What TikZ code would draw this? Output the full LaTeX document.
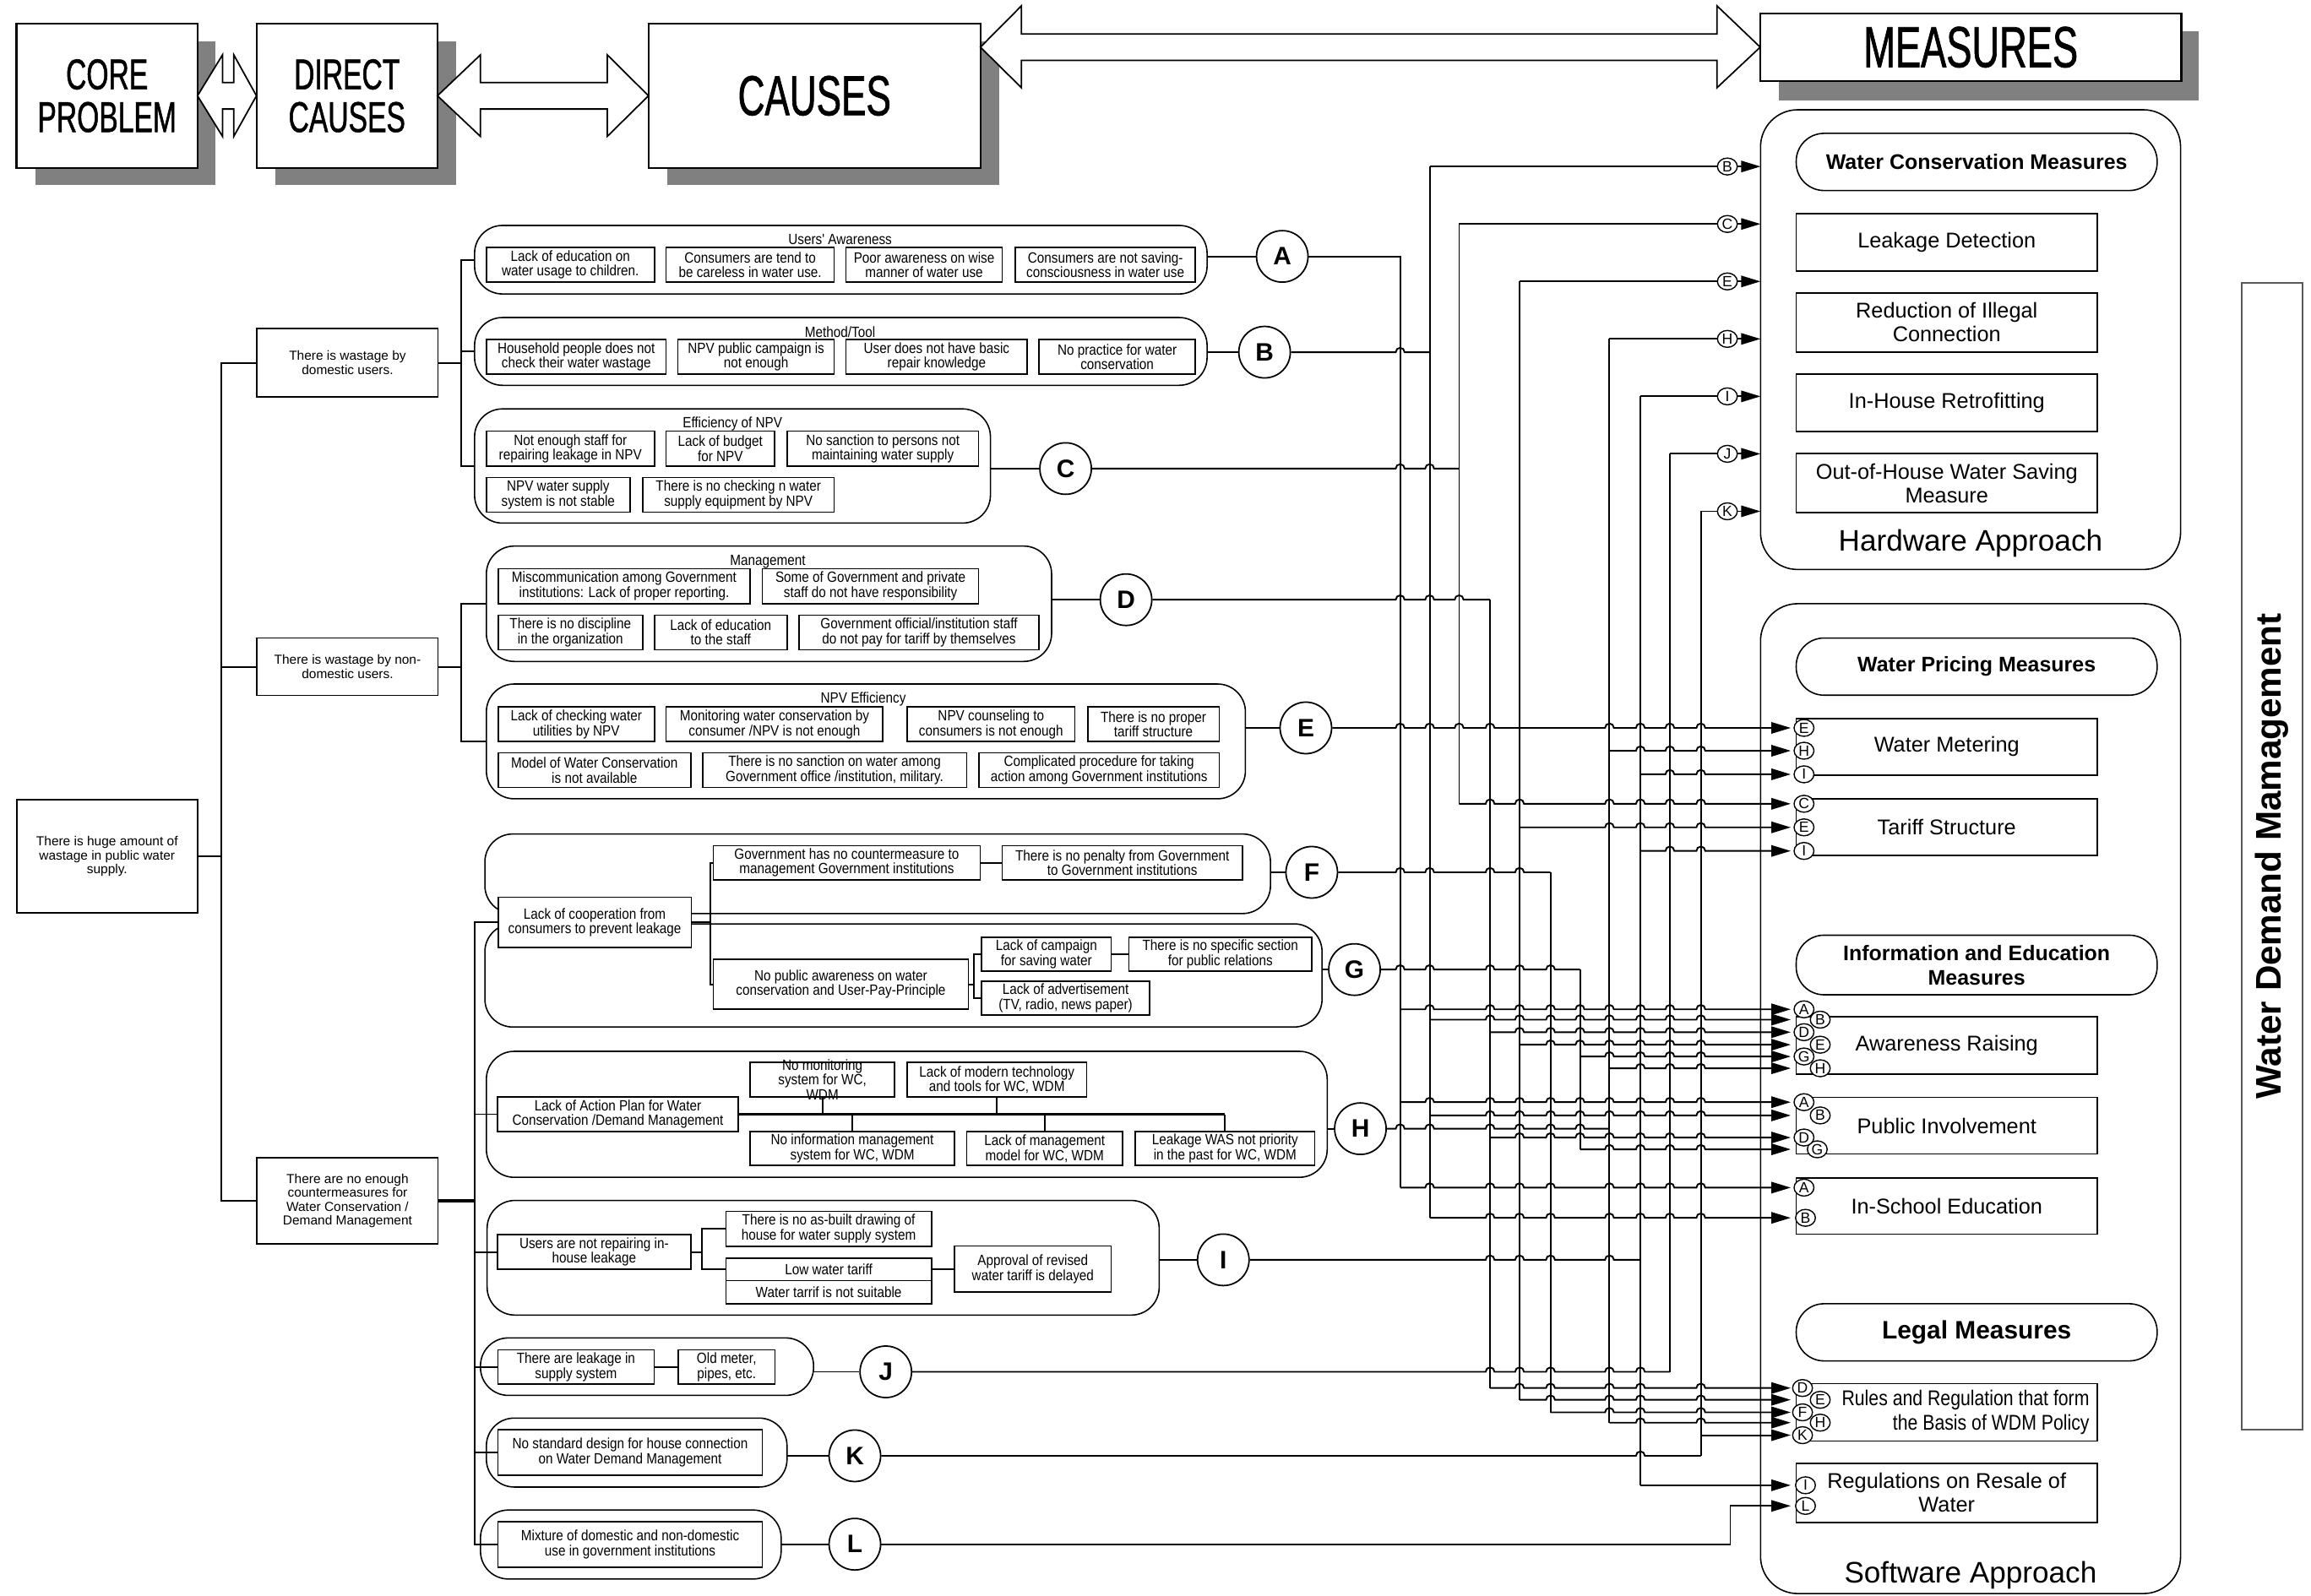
\documentclass[tikz,border=0pt]{standalone}
\usepackage{fontspec}
\setmainfont{Liberation Sans}
\newfontfamily\hdfont[FakeStretch=0.66,FakeBold=1]{Liberation Sans}
\newfontfamily\smfont[FakeStretch=0.87]{Liberation Sans}
\newfontfamily\rfont[FakeStretch=0.84]{Liberation Sans}
\usetikzlibrary{arrows.meta,shapes.geometric}
\newcommand\mybox[7]{\node[#1,minimum width={(#5-#3)*0.1745mm},minimum height={(#6-#4)*0.1745mm}] (#2) at ({(#3+#5)/2},{(#4+#6)/2}) {#7};}
\newcommand\hopline[5][]{\draw[wire,#1] (#2) \foreach \h in {#4}{ -- ({\h-3},#3) arc[start angle=180,end angle=360,radius=3]} -- (#5,#3);}
\begin{document}
\begin{tikzpicture}[x=0.1745mm,y=-0.1745mm,
  wire/.style={line width=0.55pt},
  arr/.style={wire,-{Triangle[length=6.5pt,width=3.8pt]}},
  hdbox/.style={draw,line width=0.6pt,fill=white,align=center,outer sep=0pt,font=\hdfont\fontsize{14.5}{14.4}\selectfont},
  blk/.style={draw,line width=0.5pt,fill=white},
  lbox/.style={draw,line width=0.5pt,fill=white,align=center,outer sep=0pt,inner sep=0.5pt,font=\fontsize{4.4}{4.7}\selectfont},
  ibox/.style={draw,line width=0.45pt,fill=white,align=center,outer sep=0pt,inner sep=0.3pt,font=\smfont\fontsize{5}{5}\selectfont},
  txt/.style={align=center,inner sep=0pt,font=\smfont\fontsize{5}{5}\selectfont},
  grp/.style={draw,line width=0.45pt,rounded corners=3.3mm,outer sep=0pt},
  circ/.style={circle,draw,line width=0.5pt,fill=white,minimum size=6.1mm,inner sep=0pt,font=\bfseries\fontsize{8.5}{8.5}\selectfont},
  lab/.style={ellipse,draw,line width=0.4pt,fill=white,minimum width=2.35mm,minimum height=2.0mm,inner sep=0pt,font=\fontsize{5}{5}\selectfont},
  rbox/.style={draw,line width=0.5pt,fill=white,align=center,outer sep=0pt,font=\fontsize{7.2}{8}\selectfont},
  pill/.style={draw,line width=0.45pt,rounded corners=3.3mm,fill=white,align=center,outer sep=0pt,font=\bfseries\fontsize{7.1}{8.2}\selectfont},
  appr/.style={draw,line width=0.45pt,rounded corners=4.4mm,outer sep=0pt}]
\useasboundingbox (0,0) rectangle (1568,1083);

% ---------- header ----------
\fill[black!50] (24,28) rectangle (146.4,125.5);
\fill[black!50] (186.8,28) rectangle (309.6,125.5);
\fill[black!50] (452.8,28) rectangle (678,125.5);
\fill[black!50] (1207,21) rectangle (1492,68);
\mybox{hdbox}{core}{11.2}{16}{134}{114}{CORE\\PROBLEM}
\mybox{hdbox}{direct}{174}{16}{296.8}{114}{DIRECT\\CAUSES}
\mybox{hdbox,font=\hdfont\fontsize{19}{19}\selectfont}{causes}{440}{16}{665.2}{114}{CAUSES}
\mybox{hdbox,font=\hdfont\fontsize{19.5}{19.5}\selectfont}{meas}{1194.3}{9}{1480}{55}{MEASURES}
\draw[blk] (core.east) -- ++(17,-27.8) -- ++(0,18.8) -- ++(7.6,0) -- ++(0,-18.8) -- (direct.west)
  -- ++(-15.4,27.6) -- ++(0,-18.6) -- ++(-7.6,0) -- ++(0,18.6) -- cycle;
\draw[blk] (direct.east) -- ++(29.2,-27.8) -- ++(0,18.8) -- ++(86,0) -- ++(0,-18.8) -- (causes.west)
  -- ++(-28,27.6) -- ++(0,-18.6) -- ++(-86,0) -- ++(0,18.6) -- cycle;
\draw[blk] (causes.east |- meas.west) -- ++(27.8,-28) -- ++(0,19) -- ++(472,0) -- ++(0,-19) -- (meas.west)
  -- ++(-29.3,27.5) -- ++(0,-18.5) -- ++(-472,0) -- ++(0,18.5) -- cycle;

% ---------- left tree ----------
\mybox{lbox}{root}{11.3}{542.7}{134}{619.7}{There is huge amount of\\wastage in public water\\supply.}
\mybox{lbox}{dom}{174.4}{223}{297.2}{269.4}{There is wastage by\\domestic users.}
\mybox{lbox}{ndom}{174.4}{433}{297.2}{472}{There is wastage by non-\\domestic users.}
\mybox{lbox}{cm}{174.4}{785.7}{297.2}{844.1}{There are no enough\\countermeasures for\\Water Conservation /\\Demand Management}
\draw[wire] (root.east) -- (150,581.2) |- (dom.west);
\draw[wire] (150,581.2) |- (ndom.west);
\draw[wire] (150,581.2) |- (cm.west);

% ---------- groups A B C ----------
\mybox{grp}{gA}{322}{153}{819}{199.5}{}
\node[txt] (tA) at (570,162.5) {Users' Awareness};
\mybox{ibox}{a1}{330}{168}{444}{191.4}{Lack of education on\\water usage to children.}
\mybox{ibox}{a2}{452}{168}{566}{191.4}{Consumers are tend to\\be careless in water use.}
\mybox{ibox}{a3}{574}{168}{680}{191.4}{Poor awareness on wise\\manner of water use}
\mybox{ibox}{a4}{689}{168}{811}{191.4}{Consumers are not saving-\\consciousness in water use}
\mybox{grp}{gB}{322}{215.5}{819}{261.5}{}
\node[txt] (tB) at (570,225.3) {Method/Tool};
\mybox{ibox}{b1}{330}{230.4}{452}{254}{Household people does not\\check their water wastage}
\mybox{ibox}{b2}{460}{230.4}{566}{254}{NPV public campaign is\\not enough}
\mybox{ibox}{b3}{574}{230.4}{697}{254}{User does not have basic\\repair knowledge}
\mybox{ibox}{b4}{705}{230.4}{811}{254}{No practice for water\\conservation}
\mybox{grp}{gC}{322}{277.5}{672}{355}{}
\node[txt] (tC) at (497,287.9) {Efficiency of NPV};
\mybox{ibox}{c1}{330}{292.6}{444}{316.5}{Not enough staff for\\repairing leakage in NPV}
\mybox{ibox}{c2}{452}{292.6}{525.5}{316.5}{Lack of budget\\for NPV}
\mybox{ibox}{c3}{534}{292.6}{664}{316.5}{No sanction to persons not\\maintaining water supply}
\mybox{ibox}{c4}{330}{324}{427.4}{347.7}{NPV water supply\\system is not stable}
\mybox{ibox}{c5}{436}{324}{566}{347.7}{There is no checking n water\\supply equipment by NPV}
\draw[wire] (dom.east) -- (313,246.2) |- (gA.west);
\draw[wire] (313,246.2) |- (gB.west);
\draw[wire] (313,246.2) |- (gC.west);

% ---------- groups D E ----------
\mybox{grp}{gD}{330}{370.6}{713.5}{448.9}{}
\node[txt] (tD) at (521,381) {Management};
\mybox{ibox}{d1}{338}{386}{509}{409.7}{Miscommunication among Government\\institutions: Lack of proper reporting.}
\mybox{ibox}{d2}{517.3}{386}{664}{409.7}{Some of Government and private\\staff do not have responsibility}
\mybox{ibox}{d3}{338}{417.4}{436}{441}{There is no discipline\\in the organization}
\mybox{ibox}{d4}{444}{417.4}{534}{441}{Lack of education\\to the staff}
\mybox{ibox}{d5}{542}{417.4}{705}{441}{Government official/institution staff\\do not pay for tariff by themselves}
\mybox{grp}{gE}{330}{464.2}{845}{542.1}{}
\node[txt] (tE) at (585.7,474.7) {NPV Efficiency};
\mybox{ibox}{e1}{338}{479.8}{444}{503.3}{Lack of checking water\\utilities by NPV}
\mybox{ibox}{e2}{452}{479.8}{599}{503.3}{Monitoring water conservation by\\consumer /NPV is not enough}
\mybox{ibox}{e3}{615.6}{479.8}{729.3}{503.3}{NPV counseling to\\consumers is not enough}
\mybox{ibox}{e4}{738}{479.8}{827.2}{503.3}{There is no proper\\tariff structure}
\mybox{ibox}{e5}{338}{511}{468.7}{534.3}{Model of Water Conservation\\is not available}
\mybox{ibox}{e6}{476.7}{511}{655.8}{534.3}{There is no sanction on water among\\Government office /institution, military.}
\mybox{ibox}{e7}{664.2}{511}{827.2}{534.3}{Complicated procedure for taking\\action among Government institutions}
\draw[wire] (ndom.east) -- (313,452.5) |- (gD.west);
\draw[wire] (313,452.5) |- (gE.west);

% ---------- groups F G ----------
\mybox{grp}{gF}{329}{566}{862}{620}{}
\mybox{grp}{gG}{329}{627}{897}{697}{}
\mybox{ibox}{coop}{338}{609}{469}{643}{Lack of cooperation from\\consumers to prevent leakage}
\mybox{ibox}{gov}{484}{574}{665}{597}{Government has no countermeasure to\\management Government institutions}
\mybox{ibox}{pen}{680}{574}{843}{597}{There is no penalty from Government\\to Government institutions}
\mybox{ibox}{pubaw}{484}{651}{657}{685}{No public awareness on water\\conservation and User-Pay-Principle}
\mybox{ibox}{camp}{666}{636}{754}{659}{Lack of campaign\\for saving water}
\mybox{ibox}{spec}{766}{636}{890}{659}{There is no specific section\\for public relations}
\mybox{ibox}{adv}{666}{666}{780}{689}{Lack of advertisement\\(TV, radio, news paper)}
\draw[wire] (coop.east) -- (482,626) |- (gov.west);
\draw[wire] (482,626) |- (pubaw.west);
\draw[wire] (gov.east) -- (pen.west);
\draw[wire] (pubaw.east) -- (661,668) |- (camp.west);
\draw[wire] (661,668) |- (adv.west);
\draw[wire] (camp.east) -- (spec.west);

% ---------- group H ----------
\mybox{grp}{gH}{330}{713.5}{900.5}{799}{}
\mybox{ibox}{plan}{337.4}{744.4}{501}{768}{Lack of Action Plan for Water\\Conservation /Demand Management}
\mybox{ibox}{nomon}{509}{721}{607}{744.5}{}
\node[txt] (nomont) at (nomon) {No monitoring\\system for WC,\\WDM};
\mybox{ibox}{modern}{615.4}{721}{737.4}{744.5}{Lack of modern technology\\and tools for WC, WDM}
\mybox{ibox}{noinfo}{509}{768}{647.6}{791}{No information management\\system for WC, WDM}
\mybox{ibox}{mgmt}{656}{768}{761.6}{791}{Lack of management\\model for WC, WDM}
\mybox{ibox}{was}{770.4}{768}{892}{791}{Leakage WAS not priority\\in the past for WC, WDM}
\draw[wire,line width=1.1pt] (plan.east) -- (was.north |- plan.east);
\draw[wire] (nomon.south) -- (nomon.south |- plan.east);
\draw[wire] (modern.south) -- (modern.south |- plan.east);
\draw[wire] (noinfo.north) -- (noinfo.north |- plan.east);
\draw[wire] (mgmt.north) -- (mgmt.north |- plan.east);
\draw[wire] (was.north) -- (was.north |- plan.east);

% ---------- group I ----------
\mybox{grp}{gI}{330.5}{814.7}{786.5}{892.5}{}
\mybox{ibox}{repair}{337.4}{838}{468.8}{861.4}{Users are not repairing in-\\house leakage}
\mybox{ibox}{asb}{492.5}{822}{632}{845.8}{There is no as-built drawing of\\house for water supply system}
\mybox{ibox}{low}{492.5}{854}{632}{869}{Low water tariff}
\mybox{ibox}{suit}{492.5}{869}{632}{885}{Water tarrif is not suitable}
\mybox{ibox}{apv}{647.6}{845.7}{754}{876.8}{Approval of revised\\water tariff is delayed}
\draw[wire] (repair.east) -- (476.4,849.7) |- (asb.west);
\draw[wire] (476.4,849.7) |- (low.west);
\draw[wire] (low.east) -- (apv.west |- low.east);

% ---------- groups J K L ----------
\mybox{grp}{gJ}{326}{908}{552}{947}{}
\mybox{ibox}{leak}{337.8}{916}{443.8}{939.4}{There are leakage in\\supply system}
\mybox{ibox}{old}{460.3}{916}{525.7}{939.4}{Old meter,\\pipes, etc.}
\draw[wire] (leak.east) -- (old.west);
\mybox{grp}{gK}{330}{962.4}{534}{1009.2}{}
\mybox{ibox}{nostd}{337.8}{970.4}{517.3}{1001.3}{No standard design for house connection\\on Water Demand Management}
\mybox{grp}{gL}{326}{1024.8}{530}{1071.6}{}
\mybox{ibox}{mix}{337.8}{1032.8}{517.3}{1063.6}{Mixture of domestic and non-domestic\\use in government institutions}

\draw[wire,line width=1.1pt] (cm.east) -- (322,814.9);
\draw[wire] (322,814.9) |- (coop.west);
\draw[wire] (322,814.9) |- (plan.west);
\draw[wire] (322,814.9) |- (repair.west);
\draw[wire] (322,814.9) |- (leak.west);
\draw[wire] (322,814.9) |- (nostd.west);
\draw[wire] (322,814.9) |- (mix.west);

% ---------- circles ----------
\node[circ] (cA) at (870,174) {A};
\node[circ] (cB) at (858,239) {B};
\node[circ] (cC) at (723,318) {C};
\node[circ] (cD) at (764,407) {D};
\node[circ] (cE) at (886,494) {E};
\node[circ] (cF) at (890,592) {F};
\node[circ] (cG) at (919,658) {G};
\node[circ] (cH) at (923,766) {H};
\node[circ] (cI) at (830,855) {I};
\node[circ] (cJ) at (601,931) {J};
\node[circ] (cK) at (580,988) {K};
\node[circ] (cL) at (580,1048) {L};
\foreach \g/\c in {gA/cA,gB/cB,gC/cC,gD/cD,gE/cE,gF/cF,gG/cG,gH/cH,gI/cI,gJ/cJ,gK/cK,gL/cL}
  \draw[wire] (\g.east |- \c) -- (\c);

% ---------- right side ----------
\mybox{appr}{hw}{1194.5}{74.5}{1479.5}{386.5}{}
\node[font=\fontsize{10}{10}\selectfont] (hwt) at (1337,369) {Hardware Approach};
\mybox{appr}{sw}{1194.5}{409.7}{1479.5}{1081.5}{}
\node[font=\fontsize{10}{10}\selectfont] (swt) at (1337,1069) {Software Approach};
\mybox{pill}{wcm}{1218.7}{90.5}{1463.6}{129.3}{Water Conservation Measures}
\mybox{rbox}{leakd}{1218.7}{145}{1423}{184}{Leakage Detection}
\mybox{rbox}{illeg}{1218.7}{199.4}{1423}{238.2}{Reduction of Illegal\\Connection}
\mybox{rbox}{inh}{1218.7}{254}{1423}{292.8}{In-House Retrofitting}
\mybox{rbox}{outh}{1218.7}{308.4}{1423}{347.3}{Out-of-House Water Saving\\Measure}
\mybox{pill}{wpm}{1218.7}{433}{1463.6}{471.8}{Water Pricing Measures}
\mybox{rbox}{meter}{1218.7}{487.5}{1423}{526}{Water Metering}
\mybox{rbox}{tariff}{1218.7}{542.3}{1423}{580.7}{Tariff Structure}
\mybox{pill}{iem}{1218.7}{635.5}{1463.6}{674.3}{Information and Education\\Measures}
\mybox{rbox}{aware}{1218.7}{690}{1423}{729}{Awareness Raising}
\mybox{rbox}{pubinv}{1218.7}{744.7}{1423}{783.2}{Public Involvement}
\mybox{rbox}{school}{1218.7}{799.4}{1423}{837.6}{In-School Education}
\mybox{pill,font=\bfseries\fontsize{8.5}{9}\selectfont}{legal}{1218.7}{884.8}{1463.6}{923.6}{Legal Measures}
\mybox{rbox}{rules}{1218.7}{939}{1423}{978}{}
\node[align=right,anchor=east,inner sep=0pt,font=\rfont\fontsize{7.2}{8}\selectfont] (rulest) at (1418,958.5) {Rules and Regulation that form\\the Basis of WDM Policy};
\mybox{rbox}{resale}{1218.7}{993.7}{1423}{1032.5}{Regulations on Resale of\\Water}
\mybox{draw=black!65,line width=0.6pt,outer sep=0pt}{wdm}{1521}{192}{1562}{970}{}
\node[rotate=90,font=\bfseries\fontsize{12}{12}\selectfont] (wdmt) at (wdm.center) {Water Demand Mamagement};

% ---------- connectors circles -> verticals ----------
\draw[wire] (cA.east) -- (950,174) -- (950,806);
\hopline{cB.east}{239}{950}{970}
\draw[wire] (970,113) -- (970,826.5);
\hopline{cC.east}{318}{950,970}{990}
\draw[wire] (990,152) -- (990,545.5);
\hopline{cD.east}{407}{950,970,990}{1011}
\draw[wire] (1011,407) -- (1011,942);
\hopline[arr]{cE.east}{494}{950,970,990,1011,1092,1113,1133,1154}{1215}
\draw[wire] (1031,191) -- (1031,950);
\hopline{cF.east}{592}{950,970,1011,1031}{1052}
\draw[wire] (1052,592) -- (1052,958.5);
\hopline{cG.east}{658}{950,970,1011,1031,1052}{1072}
\draw[wire] (1072,658) -- (1072,780);
\hopline{cH.east}{766}{950,970,1011,1031,1052,1072}{1092}
\draw[wire] (1092,230) -- (1092,965.5);
\hopline{cI.east}{855}{1011,1031,1052,1092}{1113}
\draw[wire] (1113,269) -- (1113,1008);
\hopline{cJ.east}{931}{1011,1031,1052,1092,1113}{1133}
\draw[wire] (1133,308) -- (1133,931);
\hopline{cK.east}{988}{1113}{1154}
\draw[wire] (1154,347) -- (1154,988);
\draw[arr] (cL.east) -- (1174,1048) -- (1174,1022) -- (1215,1022);

% hardware arrows
\draw[arr] (970,113) -- (hw.west |- 0,113);
\draw[arr] (990,152) -- (hw.west |- 0,152);
\draw[arr] (1031,191) -- (hw.west |- 0,191);
\draw[arr] (1092,230) -- (hw.west |- 0,230);
\draw[arr] (1113,269) -- (hw.west |- 0,269);
\draw[arr] (1133,308) -- (hw.west |- 0,308);
\draw[arr] (1154,347) -- (hw.west |- 0,347);

% software arrows
\hopline[arr]{1092,509.5}{509.5}{1113,1133,1154}{1215}
\hopline[arr]{1113,525.5}{525.5}{1133,1154}{1215}
\hopline[arr]{990,545.5}{545.5}{1011,1031,1092,1113,1133,1154}{1215}
\hopline[arr]{1031,561.5}{561.5}{1092,1113,1133,1154}{1215}
\hopline[arr]{1113,577.5}{577.5}{1133,1154}{1215}
\hopline[arr]{950,685}{685}{970,1011,1031,1052,1072,1092,1113,1133,1154}{1215}
\hopline[arr]{970,692}{692}{1011,1031,1052,1072,1092,1113,1133,1154}{1215}
\hopline[arr]{1011,700.5}{700.5}{1031,1052,1072,1092,1113,1133,1154}{1215}
\hopline[arr]{1031,709}{709}{1052,1072,1092,1113,1133,1154}{1215}
\hopline[arr]{1072,717}{717}{1092,1113,1133,1154}{1215}
\hopline[arr]{1092,725}{725}{1113,1133,1154}{1215}
\hopline[arr]{950,748}{748}{970,1011,1031,1052,1072,1092,1113,1133,1154}{1215}
\hopline[arr]{970,757}{757}{1011,1031,1052,1072,1092,1113,1133,1154}{1215}
\hopline[arr]{1011,772}{772}{1031,1052,1072,1092,1113,1133,1154}{1215}
\hopline[arr]{1072,780}{780}{1092,1113,1133,1154}{1215}
\hopline[arr]{950,806}{806}{970,1011,1031,1052,1092,1113,1133,1154}{1215}
\hopline[arr]{970,826.5}{826.5}{1011,1031,1052,1092,1113,1133,1154}{1215}
\hopline[arr]{1011,942}{942}{1031,1052,1092,1113,1154}{1215}
\hopline[arr]{1031,950}{950}{1052,1092,1113,1154}{1215}
\hopline[arr]{1052,958.5}{958.5}{1092,1113,1154}{1215}
\hopline[arr]{1092,965.5}{965.5}{1113,1154}{1215}
\draw[arr] (1154,974) -- (1215,974);
\draw[arr] (1113,1008) -- (1215,1008);

% ---------- labels ----------
\foreach \l/\y in {B/113,C/152,E/191,H/230,I/269,J/308,K/347}
  \node[lab] (lh\l) at (1172,\y) {\l};
\node[lab] (lmE) at (1224,494) {E};
\node[lab] (lmH) at (1224,509.5) {H};
\node[lab] (lmI) at (1224,525.5) {I};
\node[lab] (ltC) at (1224,545.5) {C};
\node[lab] (ltE) at (1224,561.5) {E};
\node[lab] (ltI) at (1224,577.5) {I};
\node[lab] (laB) at (1235,692) {B};
\node[lab] (laE) at (1235,709) {E};
\node[lab] (laH) at (1235,725) {H};
\node[lab] (laA) at (1224,685) {A};
\node[lab] (laD) at (1224,700.5) {D};
\node[lab] (laG) at (1224,717) {G};
\node[lab] (lpB) at (1235,757) {B};
\node[lab] (lpG) at (1233,780) {G};
\node[lab] (lpA) at (1224,748) {A};
\node[lab] (lpD) at (1224,772) {D};
\node[lab] (lsA) at (1224,806) {A};
\node[lab] (lsB) at (1225,826.5) {B};
\node[lab] (lrE) at (1235,950) {E};
\node[lab] (lrH) at (1235,965.5) {H};
\node[lab] (lrD) at (1223,942) {D};
\node[lab] (lrF) at (1223,958.5) {F};
\node[lab] (lrK) at (1223,974) {K};
\node[lab] (lgI) at (1225,1008) {I};
\node[lab] (lgL) at (1225,1022) {L};
\end{tikzpicture}
\end{document}
